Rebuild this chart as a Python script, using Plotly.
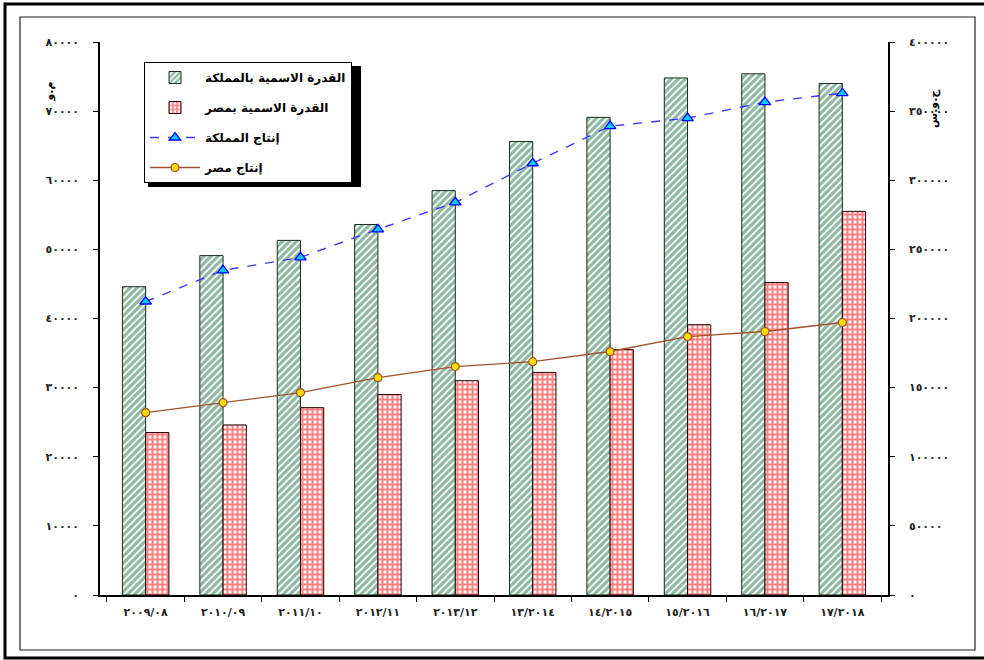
import plotly.graph_objects as go

# Fiscal-year categories (Arabic-Indic digits)
years = ["٢٠٠٩/٠٨", "٢٠١٠/٠٩", "٢٠١١/١٠", "٢٠١٢/١١", "٢٠١٣/١٢",
         "١٣/٢٠١٤", "١٤/٢٠١٥", "١٥/٢٠١٦", "١٦/٢٠١٧", "١٧/٢٠١٨"]

# Installed capacity, MW (left axis)
capacity_ksa = [44600, 49100, 51300, 53600, 58500, 65600, 69100, 74800, 75400, 74000]
capacity_egypt = [23500, 24600, 27100, 29000, 31000, 32200, 35500, 39100, 45200, 55500]

# Energy production, GWh (right axis)
production_ksa = [212300, 234800, 244200, 264500, 284000, 312300, 339100, 344900, 356500, 363000]
production_egypt = [131900, 139100, 146400, 157200, 165200, 168800, 176100, 186900, 190600, 197100]

# Axis ticks
left_ticks = [0, 10000, 20000, 30000, 40000, 50000, 60000, 70000, 80000]
left_labels = ["٠", "١٠٠٠٠", "٢٠٠٠٠", "٣٠٠٠٠", "٤٠٠٠٠", "٥٠٠٠٠", "٦٠٠٠٠", "٧٠٠٠٠", "٨٠٠٠٠"]
right_ticks = [0, 50000, 100000, 150000, 200000, 250000, 300000, 350000, 400000]
right_labels = ["٠", "٥٠٠٠٠", "١٠٠٠٠٠", "١٥٠٠٠٠", "٢٠٠٠٠٠", "٢٥٠٠٠٠", "٣٠٠٠٠٠", "٣٥٠٠٠٠", "٤٠٠٠٠٠"]

names = ["القدرة الاسمية بالمملكة", "القدرة الاسمية بمصر", "إنتاج المملكة", "إنتاج مصر"]

W, H = 984, 660
# plot area in pixels
PX_L, PX_R, PX_T, PX_B = 100, 888, 42, 595


def px(x):
    return x / W


def py(y):
    return 1 - y / H


AR_FONT = "DejaVu Sans"
TICK_FONT = dict(family=AR_FONT, size=11, color="#222222", weight="bold")

fig = go.Figure()

fig.add_trace(go.Bar(
    x=years, y=capacity_ksa, name=names[0], legendgroup="a",
    marker=dict(color="white",
                pattern=dict(shape="/", fgcolor="#1b7040", bgcolor="white", size=5, solidity=0.62),
                line=dict(color="#1a2a20", width=1)),
))
fig.add_trace(go.Bar(
    x=years, y=capacity_egypt, name=names[1], legendgroup="b",
    marker=dict(color="white",
                pattern=dict(shape="+", fgcolor="#ff0000", bgcolor="white", size=5, solidity=0.65),
                line=dict(color="#200000", width=1)),
))
fig.add_trace(go.Scatter(
    x=years, y=production_ksa, name=names[2], yaxis="y2", legendgroup="c",
    mode="lines+markers",
    line=dict(color="#3a3aff", width=1.4, dash="dash"),
    marker=dict(symbol="triangle-up", size=10, color="#00ccff",
                line=dict(color="#0000ff", width=1.3)),
))
fig.add_trace(go.Scatter(
    x=years, y=production_egypt, name=names[3], yaxis="y2", legendgroup="d",
    mode="lines+markers",
    line=dict(color="#a0522d", width=1.4),
    marker=dict(symbol="circle", size=8, color="#ffdd00",
                line=dict(color="#a0522d", width=1.2)),
))

xdom = [px(PX_L), px(PX_R)]
ydom = [py(PX_B), py(PX_T)]

fig.update_layout(
    width=W, height=H,
    margin=dict(l=0, r=0, t=0, b=0, autoexpand=False),
    paper_bgcolor="white", plot_bgcolor="white",
    barmode="group", bargap=0.4, bargroupgap=0,
    showlegend=True,
    legend=dict(
        x=px(144), y=py(62), xanchor="left", yanchor="top",
        bgcolor="white", bordercolor="black", borderwidth=1,
        font=dict(family=AR_FONT, size=12, color="black", weight="bold"),
        tracegroupgap=11, itemwidth=50,
    ),
    xaxis=dict(
        domain=xdom, anchor="y", type="category", automargin=False,
        showline=True, linecolor="black", linewidth=1.5,
        ticks="outside", ticklen=5, tickcolor="black", tickson="boundaries",
        tickfont=TICK_FONT, showgrid=False, zeroline=False,
        ticklabelstandoff=6,
    ),
    yaxis=dict(
        domain=ydom, anchor="x", range=[0, 80000], automargin=False,
        tickvals=left_ticks, ticktext=left_labels,
        showline=True, linecolor="black", linewidth=1.5,
        ticks="outside", ticklen=5, tickcolor="black",
        tickfont=TICK_FONT, showgrid=False, zeroline=False,
        ticklabelstandoff=12,
    ),
    yaxis2=dict(
        overlaying="y", side="right", anchor="x", range=[0, 400000], automargin=False,
        tickvals=right_ticks, ticktext=right_labels,
        showline=True, linecolor="black", linewidth=1.5,
        ticks="outside", ticklen=5, tickcolor="black",
        tickfont=TICK_FONT, showgrid=False, zeroline=False,
        ticklabelstandoff=12,
    ),
    # inner halves of the crossing tick marks
    yaxis3=dict(
        overlaying="y", side="left", anchor="x", range=[0, 80000], automargin=False,
        tickvals=left_ticks, showticklabels=False, showline=False,
        ticks="inside", ticklen=5, tickcolor="black", showgrid=False, zeroline=False,
    ),
    yaxis4=dict(
        overlaying="y", side="right", anchor="x", range=[0, 400000], automargin=False,
        tickvals=right_ticks, showticklabels=False, showline=False,
        ticks="inside", ticklen=5, tickcolor="black", showgrid=False, zeroline=False,
    ),
    xaxis2=dict(
        overlaying="x", anchor="y", range=[-0.5, len(years) - 0.5], automargin=False,
        tickvals=[i - 0.5 for i in range(len(years) + 1)],
        showticklabels=False, showline=False,
        ticks="inside", ticklen=5, tickcolor="black", showgrid=False, zeroline=False,
    ),
)

# axis unit titles
fig.add_annotation(x=px(40), y=py(80), xref="paper", yref="paper", text="م.و",
                   showarrow=False, textangle=-90,
                   font=dict(family=AR_FONT, size=11, color="black", weight="bold"))
fig.add_annotation(x=px(943), y=py(88), xref="paper", yref="paper", text="ج.و.س",
                   showarrow=False, textangle=-90,
                   font=dict(family=AR_FONT, size=11, color="black", weight="bold"))

shapes = [
    # outer thick frame
    dict(type="rect", xref="paper", yref="paper",
         x0=px(5), x1=px(990), y0=py(658), y1=py(4),
         line=dict(color="black", width=3), fillcolor="rgba(0,0,0,0)", layer="below"),
    # inner thin frame
    dict(type="rect", xref="paper", yref="paper",
         x0=px(20), x1=px(975), y0=py(650), y1=py(17),
         line=dict(color="#222222", width=1.2), fillcolor="rgba(0,0,0,0)", layer="below"),
    # legend drop shadow
    dict(type="rect", xref="paper", yref="paper",
         x0=px(148), x1=px(361), y0=py(187), y1=py(66),
         line=dict(width=0), fillcolor="black", layer="above"),
]
fig.update_layout(shapes=shapes)

fig.write_html("out.html")
